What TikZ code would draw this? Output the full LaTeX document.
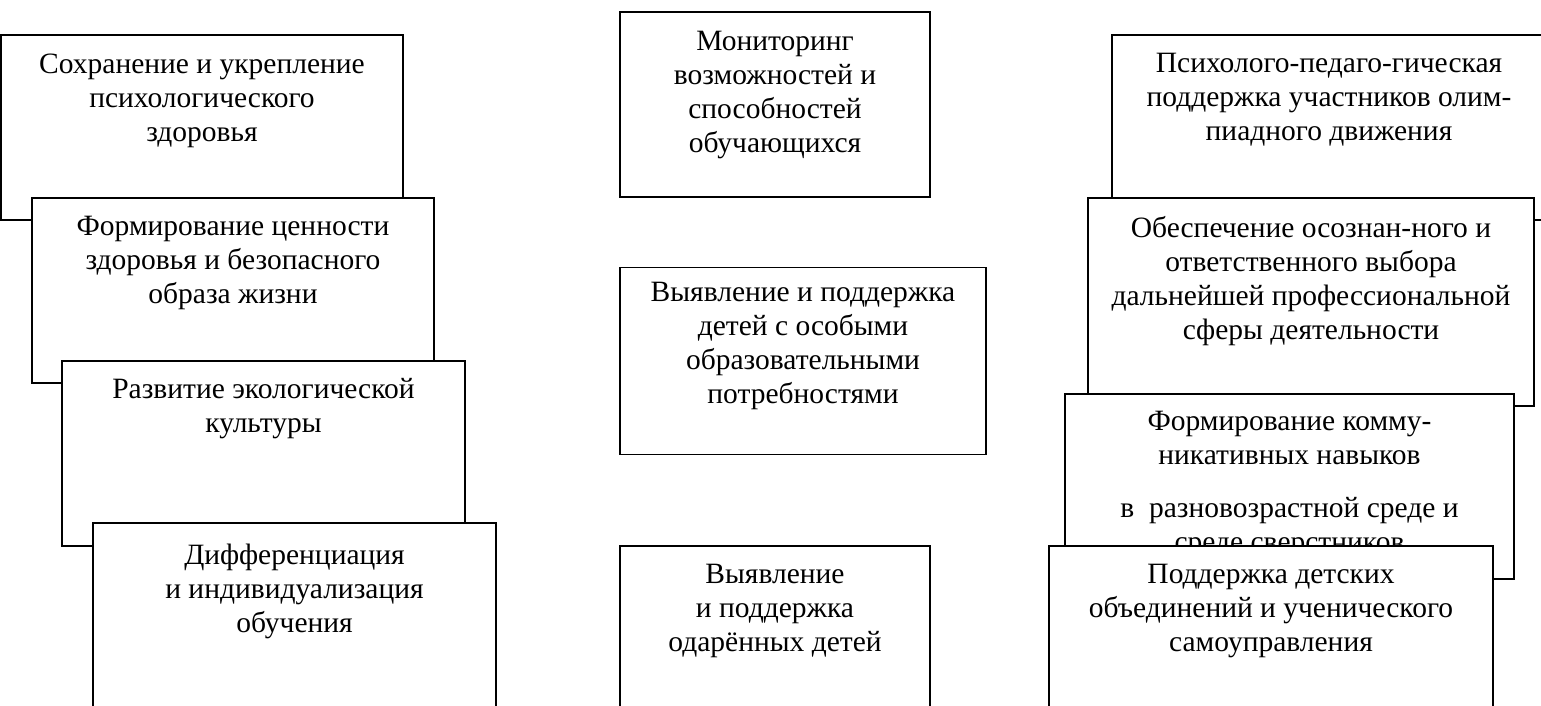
\documentclass[tikz,border=0pt]{standalone}
\usepackage{fontspec}
\setmainfont{Liberation Serif}
\usetikzlibrary{positioning}
\tikzset{
	box/.style = {draw, fill=white, line width=0.8pt, rectangle, inner sep=0pt},
	txt/.style = {align=center, inner sep=0pt, font=\fontsize{14.75}{17}\selectfont,
		execute at begin node=\rule{0pt}{12pt}}
}

\begin{document}
\begin{tikzpicture}[x=0.5pt, y=-0.5pt]
	\path[use as bounding box, clip] (0,0) rectangle (1541,706);

	% left column
	\node at (202,127.5) [box, minimum width=201pt, minimum height=92.5pt] (l1) {};
	\node [txt, below=9.5pt of l1.north] (l1t) {Сохранение и укрепление\\психологического\\здоровья};
	\node at (233,290.5) [box, minimum width=201pt, minimum height=92.5pt] (l2) {};
	\node [txt, below=9.5pt of l2.north] (l2t) {Формирование ценности\\здоровья и безопасного\\образа жизни};
	\node at (263.5,453.5) [box, minimum width=201.5pt, minimum height=92.5pt] (l3) {};
	\node [txt, below=9pt of l3.north] (l3t) {Развитие экологической\\культуры};
	\node at (294.5,615.5) [box, minimum width=201.5pt, minimum height=92.5pt] (l4) {};
	\node [txt, below=10.5pt of l4.north] (l4t) {Дифференциация\\и индивидуализация\\обучения};

	% middle column
	\node at (775,104.5) [box, minimum width=155pt, minimum height=92.5pt] (m1) {};
	\node [txt, below=10pt of m1.north] (m1t) {Мониторинг\\возможностей и\\способностей\\обучающихся};
	\node at (803,361) [box, minimum width=183pt, minimum height=93.5pt] (m2) {};
	\node [txt, below=7.5pt of m2.north] (m2t) {Выявление и поддержка\\детей с особыми\\образовательными\\потребностями};
	\node at (775,638.5) [box, minimum width=155pt, minimum height=92.5pt] (m3) {};
	\node [txt, below=9.5pt of m3.north] (m3t) {Выявление\\и поддержка\\одарённых детей};

	% right column
	\node at (1329,127.5) [box, minimum width=217pt, minimum height=92.5pt] (r1) {};
	\node [txt, below=9.5pt of r1.north] (r1t) {Психолого-педаго-гическая\\поддержка участников олим-\\пиадного движения};
	\node at (1311,302) [box, minimum width=223pt, minimum height=104pt] (r2) {};
	\node [txt, below=9.5pt of r2.north] (r2t) {Обеспечение осознан-ного и\\ответственного выбора\\дальнейшей профессиональной\\сферы деятельности};
	\node at (1289.5,486.5) [box, minimum width=224.5pt, minimum height=92.5pt] (r3) {};
	\node [txt, below=9pt of r3.north] (r3t) {Формирование комму-\\никативных навыков\\[9.5pt]в~ разновозрастной среде и\\среде сверстников};
	\node at (1271,638.5) [box, minimum width=222pt, minimum height=92.5pt] (r4) {};
	\node [txt, below=9.5pt of r4.north] (r4t) {Поддержка детских\\объединений и ученического\\самоуправления};
\end{tikzpicture}
\end{document}
